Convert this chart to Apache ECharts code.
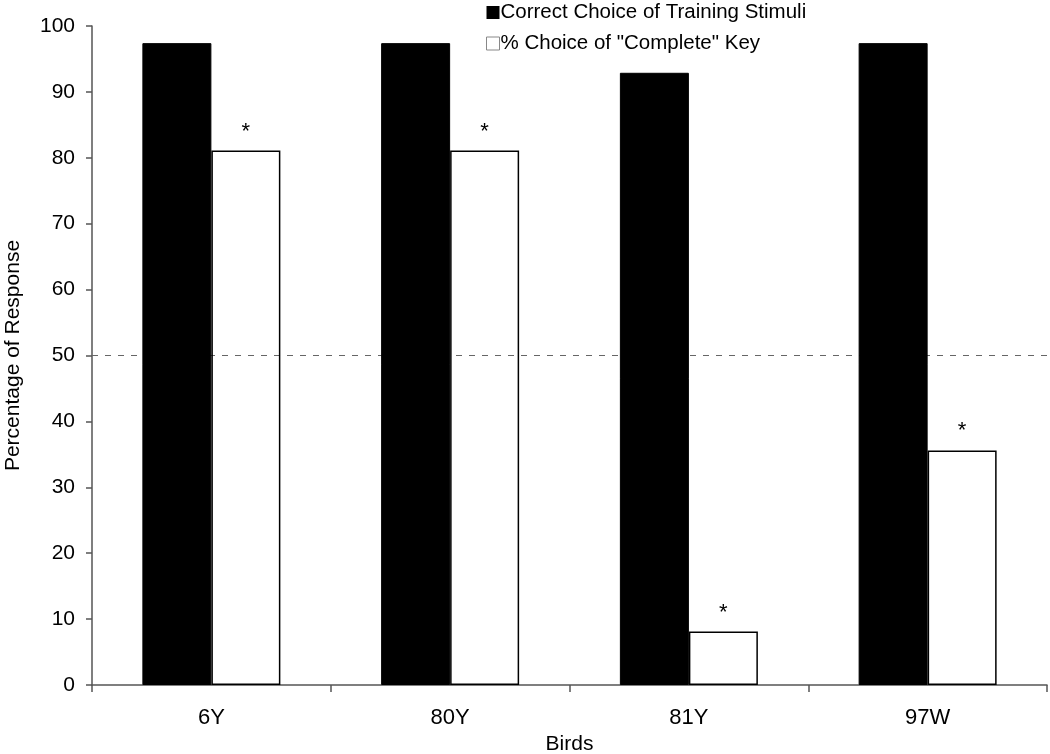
<!DOCTYPE html>
<html>
<head>
<meta charset="utf-8">
<script src="https://cdn.jsdelivr.net/npm/echarts@6/dist/echarts.min.js"></script>
<style>html,body{margin:0;padding:0;background:#fff}#c{width:1050px;height:754px}</style>
</head>
<body>
<div id="c"></div>
<script>
var birds = ['6Y', '80Y', '81Y', '97W'];
var correctChoice = [97.4, 97.4, 92.9, 97.4];
var completeKey = [81.1, 81.1, 8.1, 35.6];
var significant = ['*', '*', '*', '*'];
var yTicks = [0, 10, 20, 30, 40, 50, 60, 70, 80, 90, 100];
var chanceLevel = 50;

var FONT = '"Liberation Sans", Arial, Helvetica, sans-serif';
var chart = echarts.init(document.getElementById('c'));
chart.setOption({
  animation: false,
  textStyle: { fontFamily: FONT, color: '#000' },
  grid: { left: 92, right: 3, top: 26, bottom: 69, outerBoundsMode: 'none', containLabel: false },
  legend: {
    orient: 'vertical',
    left: 481, top: -3,
    itemWidth: 13, itemHeight: 13, itemGap: 10,
    selectedMode: false,
    textStyle: { fontFamily: FONT, fontSize: 20.5, color: '#000', padding: [0, 0, 0, -4] },
    data: [
      { name: 'Correct Choice of Training Stimuli', icon: 'rect', itemStyle: { color: '#000', borderWidth: 0 } },
      { name: '% Choice of "Complete" Key', icon: 'rect', itemStyle: { color: '#fff', borderColor: '#888', borderWidth: 1 } }
    ]
  },
  xAxis: {
    type: 'category',
    data: birds,
    name: 'Birds',
    nameLocation: 'middle',
    nameGap: 46,
    nameTextStyle: { fontFamily: FONT, fontSize: 21, color: '#000' },
    axisLine: { lineStyle: { color: '#555', width: 1.5 } },
    axisTick: { show: true, alignWithLabel: false, length: 7, lineStyle: { color: '#555', width: 1.5 } },
    axisLabel: { fontFamily: FONT, fontSize: 22, color: '#000', margin: 22 },
    splitLine: { show: false }
  },
  yAxis: {
    type: 'value',
    min: yTicks[0], max: yTicks[yTicks.length - 1], interval: yTicks[1] - yTicks[0],
    name: 'Percentage of Response',
    nameLocation: 'middle',
    nameGap: 68,
    nameTextStyle: { fontFamily: FONT, fontSize: 21, color: '#000' },
    axisLine: { show: true, lineStyle: { color: '#555', width: 1.5 } },
    axisTick: { show: true, length: 6, lineStyle: { color: '#555', width: 1.5 } },
    axisLabel: { fontFamily: FONT, fontSize: 21, color: '#000', margin: 17 },
    splitLine: { show: false }
  },
  series: [
    {
      name: 'Correct Choice of Training Stimuli',
      type: 'bar',
      data: correctChoice,
      barWidth: 69,
      barGap: '0%',
      z: 4,
      itemStyle: { color: '#000', borderColor: '#000', borderWidth: 1 }
    },
    {
      name: '% Choice of "Complete" Key',
      type: 'bar',
      data: completeKey,
      barWidth: 69,
      barGap: '0%',
      z: 3,
      itemStyle: { color: 'rgba(255,255,255,0)', borderColor: '#000', borderWidth: 1.5 },
      label: {
        show: true, position: 'top', distance: 8,
        fontFamily: FONT, fontSize: 22, color: '#000',
        formatter: function (p) { return significant[p.dataIndex]; }
      },
      markLine: {
        silent: true,
        symbol: 'none',
        z: 2,
        label: { show: false },
        lineStyle: { color: '#666', type: [6, 7], width: 1.2 },
        data: [{ yAxis: chanceLevel }]
      }
    }
  ]
});
</script>
</body>
</html>
